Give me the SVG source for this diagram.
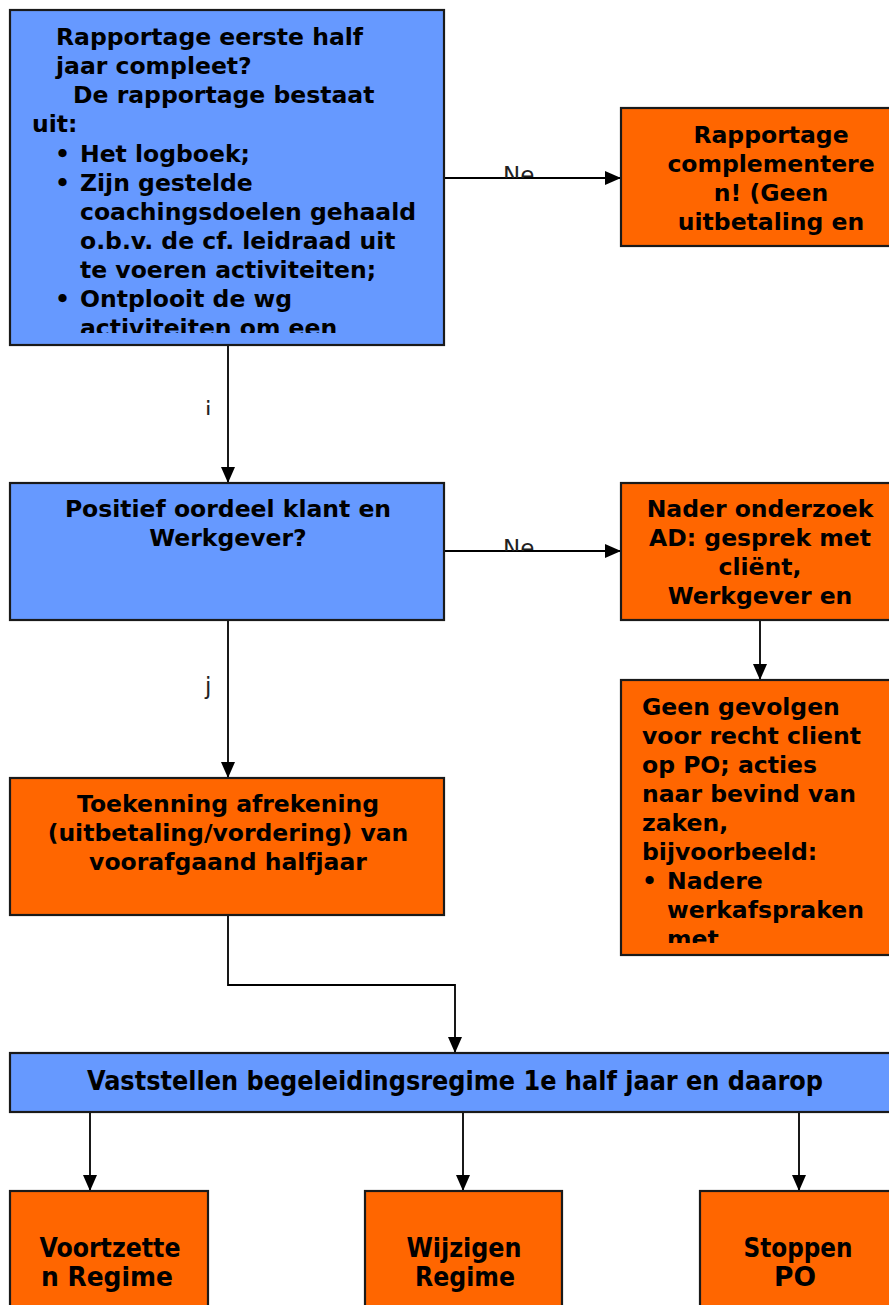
<svg xmlns="http://www.w3.org/2000/svg" width="889" height="1305" viewBox="0 0 889 1305">
<style>
.blue{fill:#6699FF;stroke:#1a1a1a;stroke-width:2.2}
.orange{fill:#FF6600;stroke:#1a1a1a;stroke-width:2.2}
.t{font-family:"DejaVu Sans",Verdana,sans-serif;font-weight:bold;font-size:23.5px;fill:#000}
.c{text-anchor:middle}
.n{font-family:"DejaVu Sans Condensed","DejaVu Sans",sans-serif;font-weight:bold;font-size:26px;fill:#000;text-anchor:middle}
.lbl{font-family:"DejaVu Sans",Verdana,sans-serif;font-size:23px;fill:#222}
.line{fill:none;stroke:#000;stroke-width:1.8}
</style>
<defs>
<marker id="arrow" viewBox="0 0 16 14" refX="16" refY="7" markerWidth="16" markerHeight="14" markerUnits="userSpaceOnUse" orient="auto">
<path d="M0,0 L16,7 L0,14 z" fill="#000"/>
</marker>
<clipPath id="c1"><rect x="10" y="10" width="434" height="323"/></clipPath>
<clipPath id="c2"><rect x="621" y="108" width="268" height="130"/></clipPath>
<clipPath id="c4"><rect x="621" y="483" width="268" height="130"/></clipPath>
<clipPath id="c5"><rect x="621" y="680" width="268" height="263"/></clipPath>
<clipPath id="cNe1"><rect x="490" y="150" width="60" height="28"/></clipPath>
<clipPath id="cNe2"><rect x="490" y="523" width="60" height="28"/></clipPath>
<clipPath id="cj1"><rect x="195" y="390" width="30" height="25"/></clipPath>
</defs>

<g id="connectors">
<line class="line" x1="444" y1="178" x2="621" y2="178" marker-end="url(#arrow)"/>
<line class="line" x1="444" y1="551" x2="621" y2="551" marker-end="url(#arrow)"/>
<line class="line" x1="228" y1="345" x2="228" y2="483" marker-end="url(#arrow)"/>
<line class="line" x1="228" y1="620" x2="228" y2="778" marker-end="url(#arrow)"/>
<line class="line" x1="760" y1="620" x2="760" y2="680" marker-end="url(#arrow)"/>
<polyline class="line" points="228,915 228,985 455,985 455,1053" marker-end="url(#arrow)"/>
<line class="line" x1="90" y1="1112" x2="90" y2="1191" marker-end="url(#arrow)"/>
<line class="line" x1="463" y1="1112" x2="463" y2="1191" marker-end="url(#arrow)"/>
<line class="line" x1="799" y1="1112" x2="799" y2="1191" marker-end="url(#arrow)"/>
<g clip-path="url(#cNe1)"><text class="lbl" x="503" y="183">Ne</text></g>
<g clip-path="url(#cNe2)"><text class="lbl" x="503" y="556">Ne</text></g>
<g clip-path="url(#cj1)"><text class="lbl" x="205" y="418">j</text></g>
<text class="lbl" x="205" y="694">j</text>
</g>

<g id="n1">
<rect class="blue" x="10" y="10" width="434" height="335"/>
<g clip-path="url(#c1)">
<text class="t" x="56" y="45">Rapportage eerste half</text>
<text class="t" x="56" y="74">jaar compleet?</text>
<text class="t" x="73" y="103">De rapportage bestaat</text>
<text class="t" x="32" y="132">uit:</text>
<text class="t" x="55" y="162">•</text><text class="t" x="80" y="162">Het logboek;</text>
<text class="t" x="55" y="191">•</text><text class="t" x="80" y="191">Zijn gestelde</text>
<text class="t" x="80" y="220">coachingsdoelen gehaald</text>
<text class="t" x="80" y="249">o.b.v. de cf. leidraad uit</text>
<text class="t" x="80" y="278">te voeren activiteiten;</text>
<text class="t" x="55" y="307">•</text><text class="t" x="80" y="307">Ontplooit de wg</text>
<text class="t" x="80" y="336">activiteiten om een</text>
</g>
</g>

<g id="n2">
<rect class="orange" x="621" y="108" width="300" height="138"/>
<g clip-path="url(#c2)">
<text class="t c" x="771" y="143">Rapportage</text>
<text class="t c" x="771" y="172">complementere</text>
<text class="t c" x="771" y="201">n! (Geen</text>
<text class="t c" x="771" y="230">uitbetaling en</text>
</g>
</g>

<g id="n3">
<rect class="blue" x="10" y="483" width="434" height="137"/>
<text class="t c" x="228" y="517">Positief oordeel klant en</text>
<text class="t c" x="228" y="546">Werkgever?</text>
</g>

<g id="n4">
<rect class="orange" x="621" y="483" width="278" height="137"/>
<g clip-path="url(#c4)">
<text class="t c" x="760" y="517">Nader onderzoek</text>
<text class="t c" x="760" y="546">AD: gesprek met</text>
<text class="t c" x="760" y="575">cliënt,</text>
<text class="t c" x="760" y="604">Werkgever en</text>
</g>
</g>

<g id="n5">
<rect class="orange" x="621" y="680" width="278" height="275"/>
<g clip-path="url(#c5)">
<text class="t" x="642" y="715">Geen gevolgen</text>
<text class="t" x="642" y="744">voor recht client</text>
<text class="t" x="642" y="773">op PO; acties</text>
<text class="t" x="642" y="802">naar bevind van</text>
<text class="t" x="642" y="831">zaken,</text>
<text class="t" x="642" y="860">bijvoorbeeld:</text>
<text class="t" x="642" y="889">•</text><text class="t" x="667" y="889">Nadere</text>
<text class="t" x="667" y="918">werkafspraken</text>
<text class="t" x="667" y="947">met</text>
</g>
</g>

<g id="n6">
<rect class="orange" x="10" y="778" width="434" height="137"/>
<text class="t c" x="228" y="812">Toekenning afrekening</text>
<text class="t c" x="228" y="841">(uitbetaling/vordering) van</text>
<text class="t c" x="228" y="870">voorafgaand halfjaar</text>
</g>

<g id="n7">
<rect class="blue" x="10" y="1053" width="889" height="59"/>
<text class="n" x="455" y="1090" textLength="736" lengthAdjust="spacingAndGlyphs">Vaststellen begeleidingsregime 1e half jaar  en daarop</text>
</g>

<g id="n8">
<rect class="orange" x="10" y="1191" width="198" height="130"/>
<text class="n" x="110" y="1257" textLength="141" lengthAdjust="spacingAndGlyphs">Voortzette</text>
<text class="n" x="107" y="1286" textLength="132" lengthAdjust="spacingAndGlyphs">n Regime</text>
</g>

<g id="n9">
<rect class="orange" x="365" y="1191" width="197" height="130"/>
<text class="n" x="464" y="1257" textLength="115" lengthAdjust="spacingAndGlyphs">Wijzigen</text>
<text class="n" x="465" y="1286" textLength="100" lengthAdjust="spacingAndGlyphs">Regime</text>
</g>

<g id="n10">
<rect class="orange" x="700" y="1191" width="200" height="130"/>
<text class="n" x="798" y="1257" textLength="109" lengthAdjust="spacingAndGlyphs">Stoppen</text>
<text class="n" x="795" y="1286" textLength="42" lengthAdjust="spacingAndGlyphs">PO</text>
</g>
</svg>
